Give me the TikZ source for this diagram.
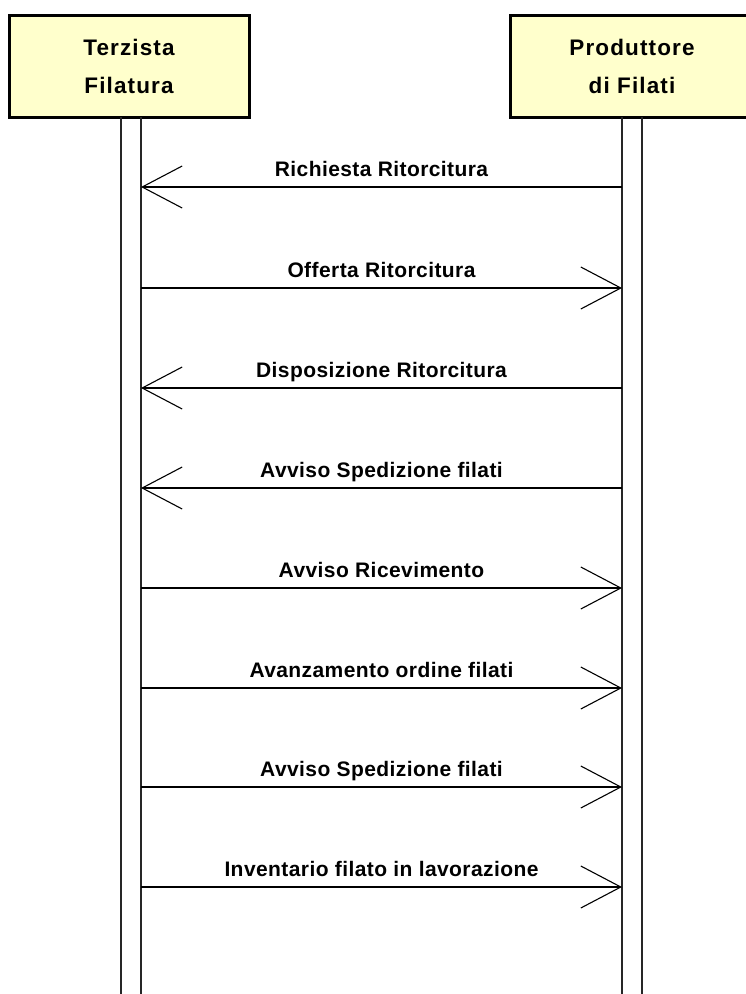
\documentclass[tikz,border=0pt]{standalone}
\usepackage{fontspec}
\setmainfont{Liberation Sans}
\newfontfamily\headfont[LetterSpace=5]{Liberation Sans}
\newfontfamily\lblfont[LetterSpace=2]{Liberation Sans}
\usetikzlibrary{arrows.meta,calc}
\definecolor{headfill}{HTML}{FFFFCC}
\begin{document}
\begin{tikzpicture}[x=1pt,y=-1pt,
  headbox/.style={draw=black, line width=3pt, fill=headfill, align=center,
    font=\headfont\bfseries\fontsize{22.5}{38}\selectfont, inner sep=0pt},
  lifeline/.style={draw=black!85, line width=1.4pt},
  msg/.style={draw=black, line width=1.3pt, -{Straight Barb[length=40pt,width=42pt,line width=1.1pt]}},
  msglabel/.style={font=\lblfont\bfseries\fontsize{21}{24}\selectfont, anchor=base, inner sep=0pt}]
\useasboundingbox (0,0) rectangle (746,994);
\node[headbox, minimum width=240pt, minimum height=102pt] (A) at (129,66) {Terzista\\Filatura};
\node[headbox, minimum width=244pt, minimum height=102pt] (B) at (632,66) {Produttore\\di Filati};
% lifelines
\coordinate (A1) at (121,117); \coordinate (A1e) at (121,1000);
\coordinate (A2) at (141,117); \coordinate (A2e) at (141,1000);
\coordinate (B1) at (622,117); \coordinate (B1e) at (622,1000);
\coordinate (B2) at (642,117); \coordinate (B2e) at (642,1000);
\draw[lifeline] (A1) -- (A1e);
\draw[lifeline] (A2) -- (A2e);
\draw[lifeline] (B1) -- (B1e);
\draw[lifeline] (B2) -- (B2e);
% messages
\foreach \y/\d/\t [count=\i] in {
  187/l/Richiesta Ritorcitura,
  288/r/Offerta Ritorcitura,
  388/l/Disposizione Ritorcitura,
  488/l/Avviso Spedizione filati,
  588/r/Avviso Ricevimento,
  688/r/Avanzamento ordine filati,
  787/r/Avviso Spedizione filati,
  887/r/Inventario filato in lavorazione}{
  \coordinate (p\i) at (141,\y);
  \coordinate (q\i) at (622,\y);
  \if\d l
    \draw[msg] (q\i) -- (p\i);
  \else
    \draw[msg] (p\i) -- (q\i);
  \fi
  \node[msglabel] (m\i) at ([yshift=11pt]$(p\i)!0.5!(q\i)$) {\t};
}
\end{tikzpicture}
\end{document}
